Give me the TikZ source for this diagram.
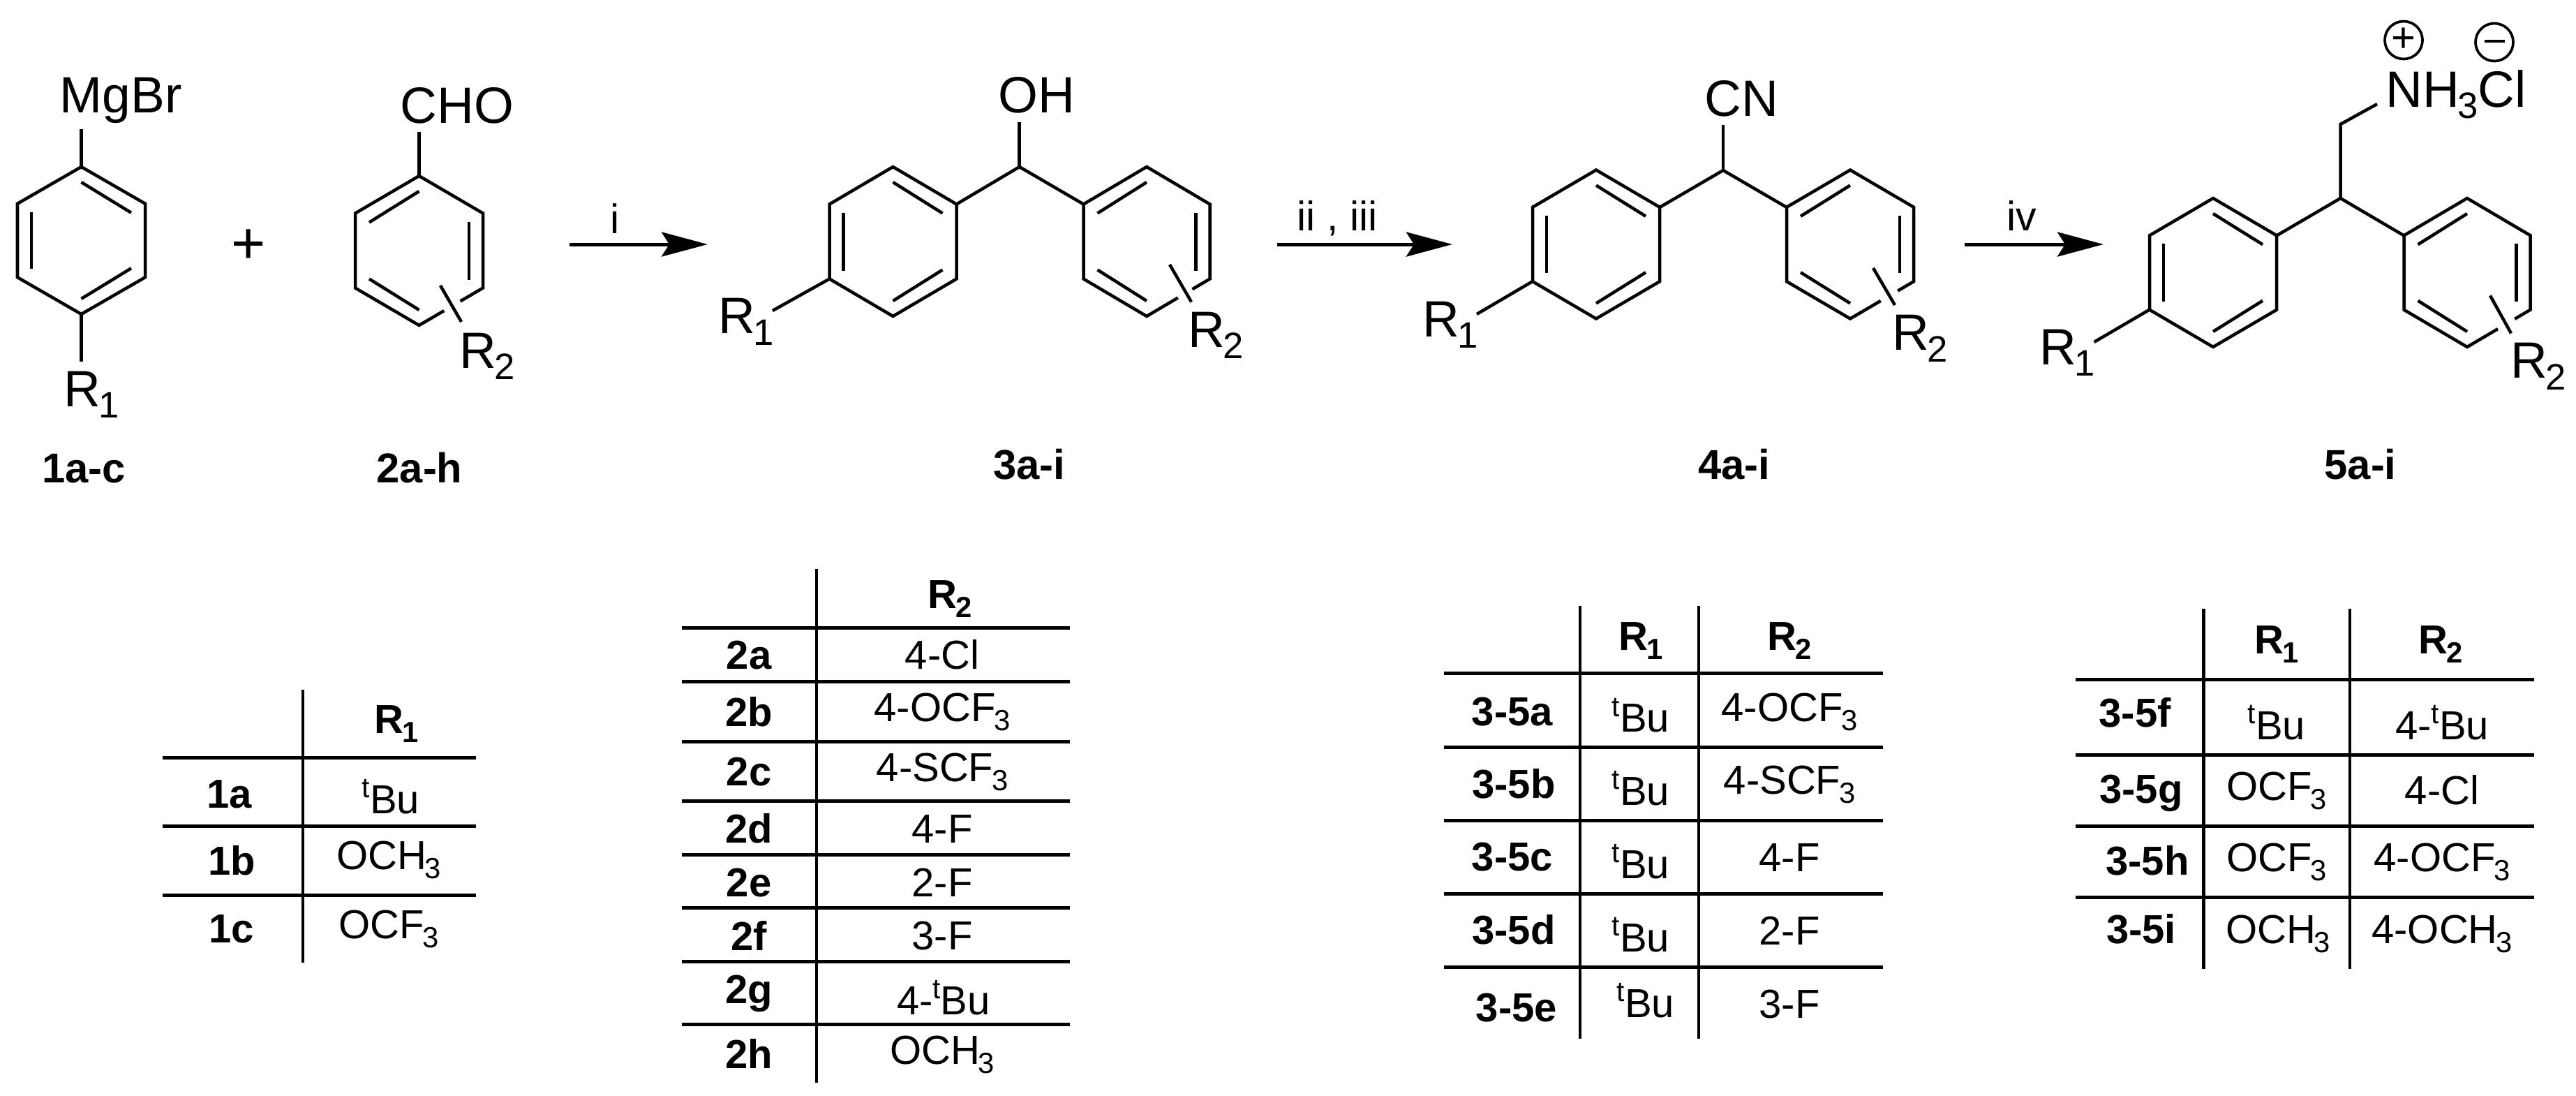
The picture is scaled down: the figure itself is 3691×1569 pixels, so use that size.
\documentclass[tikz,border=0pt]{standalone}
\usepackage{fontspec}
\usepackage{graphicx}
\setmainfont{Liberation Sans}
\usetikzlibrary{arrows.meta}
\newcommand{\sbs}[1]{\kern-.04em\raisebox{-.23em}{\scalebox{.72}{#1}}}
\newcommand{\sps}[1]{\raisebox{.38em}{\scalebox{.7}{#1}}}
\tikzset{
  bond/.style={line width=.045cm,line join=miter,line cap=butt},
  rule/.style={line width=.05cm},
  vrule/.style={line width=.045cm},
  rxn/.style={line width=.05cm,-{Stealth[length=.66cm,width=.35cm,inset=.11cm]}},
  atom/.style={inner sep=0pt,anchor=base west,xshift=-.05cm,font=\fontsize{20.8pt}{24pt}\selectfont},
  cond/.style={inner sep=0pt,anchor=base,font=\fontsize{16.8pt}{20pt}\selectfont},
  cmpd/.style={inner sep=0pt,anchor=base,font=\fontsize{17pt}{20pt}\selectfont\bfseries},
  head/.style={inner sep=0pt,anchor=base,font=\fontsize{16.5pt}{20pt}\selectfont\bfseries},
  rowl/.style={inner sep=0pt,anchor=base,font=\fontsize{16.5pt}{20pt}\selectfont\bfseries},
  val/.style={inner sep=0pt,anchor=base,font=\fontsize{16.5pt}{20pt}\selectfont},
  chg/.style={circle,draw,line width=.037cm,minimum size=.54cm,inner sep=0pt,font=\fontsize{17pt}{20pt}\selectfont},
}
% para-disubstituted ring: inner bonds on upper right, left, lower right
\newcommand{\ringP}[4]{%
 \begin{scope}[shift={(#1,#2)}]
  \draw[bond] (0,-#4) -- (#3,{-#4/2}) -- (#3,{#4/2}) -- (0,#4) -- (-#3,{#4/2}) -- (-#3,{-#4/2}) -- cycle;
  \draw[bond] (0,{-#4+22}) -- ({#3-20},{-#4/2+13});
  \draw[bond] ({-#3+20},{-#4/2+12}) -- ({-#3+20},{#4/2-12});
  \draw[bond] (0,{#4-22}) -- ({#3-20},{#4/2-13});
 \end{scope}}
% R2 ring: inner bonds upper left, right, lower left; lower-right edge broken between fractions #5 and #6
\newcommand{\ringR}[6]{%
 \begin{scope}[shift={(#1,#2)}]
  \draw[bond] ({#3-#3*#5},{#4/2+#4/2*#5}) -- (#3,{#4/2}) -- (#3,{-#4/2}) -- (0,-#4) -- (-#3,{-#4/2}) -- (-#3,{#4/2}) -- (0,#4) -- ({#3-#3*#6},{#4/2+#4/2*#6});
  \draw[bond] (0,{-#4+22}) -- ({-#3+20},{-#4/2+13});
  \draw[bond] ({#3-20},{-#4/2+12}) -- ({#3-20},{#4/2-12});
  \draw[bond] (0,{#4-22}) -- ({-#3+20},{#4/2-13});
 \end{scope}}
\begin{document}
\begin{tikzpicture}[x=.01cm,y=-.01cm]
\path[use as bounding box] (0,0) rectangle (3691,1569);

% ---------- compound 1
\ringP{116.5}{344.5}{91.5}{105.5}
\node[atom] (mgbr) at (90,161.5) {MgBr};
\node[atom] (r11) at (96,582) {R\sbs{1}};
\draw[bond] (116.5,185) -- (116.5,239);
\draw[bond] (116.5,450) -- (116.5,517.5);
\node[cmpd] (c1) at (120,691) {1a-c};
\node[inner sep=0pt,font=\fontsize{24pt}{28pt}\selectfont] (plus) at (356,353) {+};

% ---------- compound 2
\ringR{600.5}{359}{91.5}{107}{.355}{.61}
\draw[bond] (600.5,189) -- (600.5,252);
\draw[bond] (631,409) -- (661,461);
\node[atom] (cho) at (578,176) {CHO};
\node[atom] (r22) at (663,527) {R\sbs{2}};
\node[cmpd] (c2) at (601,691) {2a-h};

% ---------- arrow i
\coordinate (a1s) at (816,350); \coordinate (a1e) at (1014,350);
\draw[rxn] (a1s) -- (a1e);
\node[cond] (ci) at (881,334) {i};

% ---------- compound 3
\ringP{1279.5}{346}{91}{107}
\ringR{1643}{346}{90.5}{107}{.277}{.505}
\draw[bond] (1370.5,292.5) -- (1460.7,239) -- (1552.5,292.5);
\draw[bond] (1460.7,174.5) -- (1460.7,239);
\draw[bond] (1188.5,399.5) -- (1107,445);
\draw[bond] (1676,379) -- (1707,432.5);
\node[atom] (oh) at (1435,161.5) {OH};
\node[atom] (r13) at (1034,477.5) {R\sbs{1}};
\node[atom] (r23) at (1707,497) {R\sbs{2}};
\node[cmpd] (c3) at (1475,686) {3a-i};

% ---------- arrow ii, iii
\coordinate (a2s) at (1830,350); \coordinate (a2e) at (2081,350);
\draw[rxn] (a2s) -- (a2e);
\node[cond] (cii) at (1916,330) {ii , iii};

% ---------- compound 4
\ringP{2287}{350}{91}{106.5}
\ringR{2651}{350}{91}{106.5}{.25}{.52}
\draw[bond] (2378,297) -- (2469,244) -- (2560,297);
\draw[bond] (2469,179) -- (2469,244);
\draw[bond] (2196,403) -- (2116,450);
\draw[bond] (2684,384) -- (2715,437);
\node[atom] (cn) at (2447,166) {CN};
\node[atom] (r14) at (2716,501.5) {R\sbs{2}};
\node[atom] (r24) at (2043,482) {R\sbs{1}};
\node[cmpd] (c4) at (2484.5,686) {4a-i};

% ---------- arrow iv
\coordinate (a3s) at (2815,350); \coordinate (a3e) at (3014,350);
\draw[rxn] (a3s) -- (a3e);
\node[cond] (civ) at (2897,330) {iv};

% ---------- compound 5
\ringP{3171}{390.5}{91}{106.5}
\ringR{3535}{390.5}{90.5}{106.5}{.246}{.514}
\draw[bond] (3262,337.5) -- (3353.5,284) -- (3444.5,337.5);
\draw[bond] (3406,149) -- (3353.5,178) -- (3353.5,284);
\draw[bond] (3080,443.5) -- (3000.5,490);
\draw[bond] (3568,423.5) -- (3598,477.5);
\node[atom] (nh3) at (3423,153) {NH\sbs{3}Cl};
\node[chg] (plusq) at (3444,57.5) {+};
\node[chg] (minusq) at (3574,60.5) {\raisebox{.06em}{\rule{.29cm}{.04cm}}};
\node[atom] (r15) at (2927,522) {R\sbs{1}};
\node[atom] (r25) at (3602,541.5) {R\sbs{2}};
\node[cmpd] (c5) at (3382,686) {5a-i};

% ---------- table 1
\draw[vrule] (434,988) -- (434,1379);
\foreach \yy in {1085,1183,1282} \draw[rule] (233,\yy) -- (682,\yy);
\node[head] (t1h) at (568,1050) {R\sbs{1}};
\node[rowl] (t1a) at (329,1157) {1a};
\node[rowl] (t1b) at (332,1253) {1b};
\node[rowl] (t1c) at (332,1350) {1c};
\node[val] (t1av) at (560,1165) {\sps{t}Bu};
\node[val] (t1bv) at (557,1245) {OCH\sbs{3}};
\node[val] (t1cv) at (557,1344) {OCF\sbs{3}};

% ---------- table 2
\draw[vrule] (1170,815) -- (1170,1551);
\foreach \yy in {899,976.5,1062,1147.5,1224,1300.5,1377.5,1467} \draw[rule] (977,\yy) -- (1533,\yy);
\node[head] (t2h) at (1361,871) {R\sbs{2}};
\node[rowl] (t2a) at (1073,958) {2a};
\node[rowl] (t2b) at (1073,1040) {2b};
\node[rowl] (t2c) at (1073,1125.5) {2c};
\node[rowl] (t2d) at (1073,1207) {2d};
\node[rowl] (t2e) at (1073,1284) {2e};
\node[rowl] (t2f) at (1073,1361) {2f};
\node[rowl] (t2g) at (1073,1437) {2g};
\node[rowl] (t2i) at (1073,1530) {2h};
\node[val] (t2av) at (1350,958) {4-Cl};
\node[val] (t2bv) at (1350,1033) {4-OCF\sbs{3}};
\node[val] (t2cv) at (1350,1119) {4-SCF\sbs{3}};
\node[val] (t2dv) at (1350,1207) {4-F};
\node[val] (t2ev) at (1350,1284) {2-F};
\node[val] (t2fv) at (1350,1360) {3-F};
\node[val] (t2gv) at (1352,1453) {4-\sps{t}Bu};
\node[val] (t2iv) at (1350,1524) {OCH\sbs{3}};

% ---------- table 3
\draw[vrule] (2264,868) -- (2264,1488);
\draw[vrule] (2434,868) -- (2434,1488);
\foreach \yy in {964.5,1070,1175,1280,1385} \draw[rule] (2069,\yy) -- (2698,\yy);
\node[head] (t3h1) at (2351,931) {R\sbs{1}};
\node[head] (t3h2) at (2564,931) {R\sbs{2}};
\node[rowl] (t3a) at (2167,1039) {3-5a};
\node[rowl] (t3b) at (2169,1143.5) {3-5b};
\node[rowl] (t3c) at (2167,1247) {3-5c};
\node[rowl] (t3d) at (2169,1352.5) {3-5d};
\node[rowl] (t3e) at (2173,1463) {3-5e};
\node[val] (t3a1) at (2351,1048.5) {\sps{t}Bu};
\node[val] (t3b1) at (2351,1153) {\sps{t}Bu};
\node[val] (t3c1) at (2351,1258) {\sps{t}Bu};
\node[val] (t3d1) at (2351,1363) {\sps{t}Bu};
\node[val] (t3e1) at (2358,1457) {\sps{t}Bu};
\node[val] (t3a2) at (2564,1033) {4-OCF\sbs{3}};
\node[val] (t3b2) at (2564,1137) {4-SCF\sbs{3}};
\node[val] (t3c2) at (2564,1248) {4-F};
\node[val] (t3d2) at (2564,1353) {2-F};
\node[val] (t3e2) at (2564,1458) {3-F};

% ---------- table 4
\draw[vrule] (3157.5,872) -- (3157.5,1388);
\draw[vrule] (3367,872) -- (3367,1388);
\foreach \yy in {973,1081,1183,1285.5} \draw[rule] (2974,\yy) -- (3631,\yy);
\node[head] (t4h1) at (3262,936) {R\sbs{1}};
\node[head] (t4h2) at (3497,936) {R\sbs{2}};
\node[rowl] (t4f) at (3059,1041) {3-5f};
\node[rowl] (t4g) at (3068,1150) {3-5g};
\node[rowl] (t4h) at (3077,1253) {3-5h};
\node[rowl] (t4i) at (3068,1351) {3-5i};
\node[val] (t4f1) at (3262,1059) {\sps{t}Bu};
\node[val] (t4g1) at (3262,1146) {OCF\sbs{3}};
\node[val] (t4h1v) at (3262,1248.5) {OCF\sbs{3}};
\node[val] (t4i1) at (3264,1351) {OCH\sbs{3}};
\node[val] (t4f2) at (3499,1059) {4-\sps{t}Bu};
\node[val] (t4g2) at (3499,1152.5) {4-Cl};
\node[val] (t4h2v) at (3499,1248.5) {4-OCF\sbs{3}};
\node[val] (t4i2) at (3499,1351) {4-OCH\sbs{3}};
\end{tikzpicture}
\end{document}
